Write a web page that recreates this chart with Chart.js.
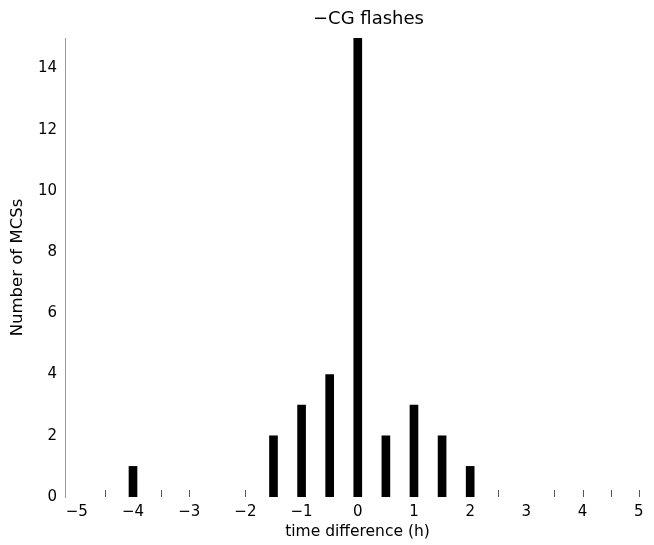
<!DOCTYPE html>
<html>
<head>
<title>-CG flashes</title>
<style>
  body { margin: 0; padding: 0; background: #fff; }
  #wrap { width: 654px; height: 545px; }
</style>
<script src="https://cdn.jsdelivr.net/npm/chart.js"></script>
</head>
<body>
<div id="wrap"><canvas id="histChart"></canvas></div>
<script>
// time difference bins (h) and number of MCSs in each
const timeDiff = [-4, -1.5, -1, -0.5, 0, 0.5, 1, 1.5, 2];
const mcsCount = [1, 2, 3, 4, 15, 2, 3, 2, 1];

const xTicks = [-5, -4, -3, -2, -1, 0, 1, 2, 3, 4, 5];
const yTicks = [0, 2, 4, 6, 8, 10, 12, 14];
// small marks standing on the baseline (empty bins)
const minorTicks = [-4.5, -3.5, -3, -2, 2.5, 3.5, 4, 4.5, 5];

const FONT = "'DejaVu Sans', sans-serif";

// little tick marks inside the plot + the title
const extras = {
  id: 'extras',
  beforeDatasetsDraw(chart) {
    const ctx = chart.ctx;
    const x = chart.scales.x, y = chart.scales.y;
    const y0 = y.getPixelForValue(0);
    ctx.save();
    ctx.strokeStyle = '#555';
    ctx.lineWidth = 1;
    minorTicks.forEach(v => {
      const px = Math.round(x.getPixelForValue(v)) + 0.5;
      ctx.beginPath();
      ctx.moveTo(px, y0);
      ctx.lineTo(px, y0 - 7);
      ctx.stroke();
    });
    ctx.restore();
  },
  afterDraw(chart) {
    const ctx = chart.ctx;
    const a = chart.chartArea;
    ctx.save();
    ctx.fillStyle = '#000';
    ctx.font = '18px ' + FONT;
    ctx.textAlign = 'center';
    ctx.textBaseline = 'middle';
    ctx.fillText('\u2212CG flashes', (a.left + a.right) / 2 + 11, 19);
    ctx.restore();
  }
};

new Chart(document.getElementById('histChart'), {
  type: 'bar',
  data: {
    datasets: [{
      data: timeDiff.map((t, i) => ({ x: t, y: mcsCount[i] })),
      backgroundColor: '#000',
      borderWidth: 0,
      barThickness: 8
    }]
  },
  options: {
    responsive: true,
    maintainAspectRatio: false,
    animation: false,
    layout: { padding: { top: 38, right: 4, left: 0, bottom: 0 } },
    plugins: {
      legend: { display: false },
      tooltip: { enabled: false },
      title: { display: false }
    },
    scales: {
      x: {
        type: 'linear',
        min: -5.21,
        max: 5.2,
        offset: false,
        grid: { display: false, drawTicks: false },
        border: { display: false },
        afterBuildTicks: s => { s.ticks = xTicks.map(v => ({ value: v })); },
        afterFit: s => { s.height = 48; },
        ticks: {
          color: '#000',
          padding: 6,
          maxRotation: 0,
          autoSkip: false,
          font: { family: FONT, size: 15 },
          callback: v => (v < 0 ? '\u2212' + Math.abs(v) : String(v))
        },
        title: {
          display: true,
          text: 'time difference (h)',
          color: '#000',
          font: { family: FONT, size: 15.5 },
          padding: { top: 2, bottom: 4 }
        }
      },
      y: {
        min: 0,
        max: 15,
        grid: { display: false, drawTicks: false },
        border: { display: true, color: '#999', width: 1 },
        afterBuildTicks: s => { s.ticks = yTicks.map(v => ({ value: v })); },
        afterFit: s => { s.width = 65; },
        ticks: {
          color: '#000',
          padding: 8,
          font: { family: FONT, size: 15 }
        },
        title: {
          display: true,
          text: 'Number of MCSs',
          color: '#000',
          font: { family: FONT, size: 16.5 },
          padding: { top: 8, bottom: 0 }
        }
      }
    }
  },
  plugins: [extras]
});
</script>
</body>
</html>
